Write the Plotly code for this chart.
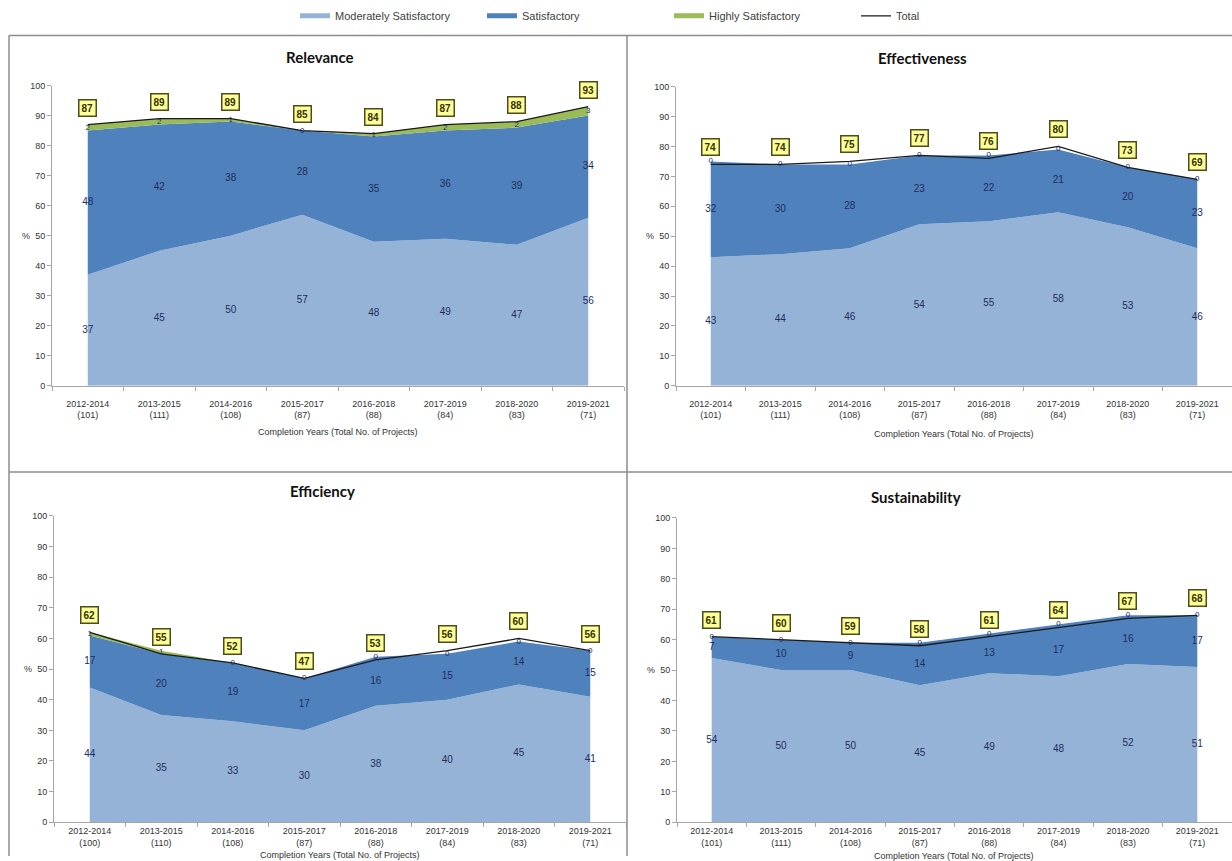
import plotly.graph_objects as go

years = ["2012-2014", "2013-2015", "2014-2016", "2015-2017",
         "2016-2018", "2017-2019", "2018-2020", "2019-2021"]

titles = ["Relevance", "Effectiveness", "Efficiency", "Sustainability"]

counts_rel = [101, 111, 108, 87, 88, 84, 83, 71]
counts_eff = [101, 111, 108, 87, 88, 84, 83, 71]
counts_efi = [100, 110, 108, 87, 88, 84, 83, 71]
counts_sus = [101, 111, 108, 87, 88, 84, 83, 71]

ms_rel = [37, 45, 50, 57, 48, 49, 47, 56]
s_rel = [48, 42, 38, 28, 35, 36, 39, 34]
hs_rel = [2, 2, 1, 0, 1, 2, 2, 3]
tot_rel = [87, 89, 89, 85, 84, 87, 88, 93]

ms_eff = [43, 44, 46, 54, 55, 58, 53, 46]
s_eff = [32, 30, 28, 23, 22, 21, 20, 23]
hs_eff = [0, 0, 0, 0, 0, 0, 0, 0]
tot_eff = [74, 74, 75, 77, 76, 80, 73, 69]

ms_efi = [44, 35, 33, 30, 38, 40, 45, 41]
s_efi = [17, 20, 19, 17, 16, 15, 14, 15]
hs_efi = [1, 1, 0, 0, 0, 0, 0, 0]
tot_efi = [62, 55, 52, 47, 53, 56, 60, 56]

ms_sus = [54, 50, 50, 45, 49, 48, 52, 51]
s_sus = [7, 10, 9, 14, 13, 17, 16, 17]
hs_sus = [0, 0, 0, 0, 0, 0, 0, 0]
tot_sus = [61, 60, 59, 58, 61, 64, 67, 68]

panels = [
    (counts_rel, ms_rel, s_rel, hs_rel, tot_rel),
    (counts_eff, ms_eff, s_eff, hs_eff, tot_eff),
    (counts_efi, ms_efi, s_efi, hs_efi, tot_efi),
    (counts_sus, ms_sus, s_sus, hs_sus, tot_sus),
]

C_MS = "#95b3d7"
C_S = "#4f81bd"
C_HS = "#9bbb59"
C_TOT = "#1a1a1a"
LBL = "#1f2d5c"
NARROW = "Liberation Sans Narrow, Arial Narrow, Liberation Sans, Arial"

W, H = 1232, 861

def vy(t):
    # vertical placement correction for the capture
    return (t - 5.5) / 0.9875

def px_x(a, b):
    return [a / W, b / W]

def px_y(top, bottom):
    return [1 - vy(bottom) / H, 1 - vy(top) / H]

def py(t):
    return 1 - vy(t) / H

# domains (pixel placement of each plot area)
xdoms = [px_x(52, 624), px_x(676, 1232), px_x(54, 626), px_x(677, 1232)]
ydoms = [px_y(86, 386), px_y(87, 386), px_y(516, 822), px_y(518, 822)]
title_pos = [(320, 57), (922, 58), (322, 491), (916, 497)]
xtitle_y = [432, 434, 855, 856]
standoff = [9, 9, 0, 0]

fig = go.Figure()
annotations = []

for i, (counts, ms, s, hs, tot) in enumerate(panels):
    k = "" if i == 0 else str(i + 1)
    xa, ya = "x" + k, "y" + k
    cats = [f"{y}<br>({n})" for y, n in zip(years, counts)]
    lvl1 = ms
    lvl2 = [a + b for a, b in zip(ms, s)]
    lvl3 = [a + b + c for a, b, c in zip(ms, s, hs)]

    fig.add_trace(go.Scatter(x=cats, y=lvl1, mode="lines", line=dict(width=0, color=C_MS),
                             fill="tozeroy", fillcolor=C_MS, showlegend=False,
                             hoverinfo="skip", xaxis=xa, yaxis=ya))
    fig.add_trace(go.Scatter(x=cats, y=lvl2, mode="lines", line=dict(width=0, color=C_S),
                             fill="tonexty", fillcolor=C_S, showlegend=False,
                             hoverinfo="skip", xaxis=xa, yaxis=ya))
    fig.add_trace(go.Scatter(x=cats, y=lvl3, mode="lines", line=dict(width=0, color=C_HS),
                             fill="tonexty", fillcolor=C_HS, showlegend=False,
                             hoverinfo="skip", xaxis=xa, yaxis=ya))
    fig.add_trace(go.Scatter(x=cats, y=tot, mode="lines", line=dict(width=1.3, color=C_TOT),
                             showlegend=False, hoverinfo="skip", xaxis=xa, yaxis=ya))

    # value labels at the middle of each band
    fig.add_trace(go.Scatter(x=cats, y=[v / 2 for v in ms], mode="text",
                             text=[str(v) for v in ms], textfont=dict(size=10, color=LBL, family=NARROW),
                             showlegend=False, hoverinfo="skip", xaxis=xa, yaxis=ya))
    fig.add_trace(go.Scatter(x=cats, y=[a + b / 2 for a, b in zip(ms, s)], mode="text",
                             text=[str(v) for v in s], textfont=dict(size=10, color=LBL, family=NARROW),
                             showlegend=False, hoverinfo="skip", xaxis=xa, yaxis=ya))
    fig.add_trace(go.Scatter(x=cats, y=[a + c / 2 for a, c in zip(lvl2, hs)], mode="text",
                             text=[str(v) for v in hs], textfont=dict(size=8, color=LBL, family=NARROW),
                             showlegend=False, hoverinfo="skip", xaxis=xa, yaxis=ya))

    for c, t in zip(cats, tot):
        annotations.append(dict(x=c, y=t, xref=xa, yref=ya, text=f"<b>{t}</b>",
                                showarrow=False, yshift=17,
                                font=dict(size=10, color="#333300", family=NARROW),
                                bgcolor="#ffff99", bordercolor="#4d4d1a", borderwidth=1.5,
                                borderpad=2))

    tx, ty = title_pos[i]
    annotations.append(dict(x=tx / W, y=py(ty), xref="paper", yref="paper",
                            text=f"<b>{titles[i]}</b>", showarrow=False,
                            font=dict(size=15, color="#111111", family="Lato, Open Sans"),
                            xanchor="center", yanchor="middle"))
    annotations.append(dict(x=sum(xdoms[i]) / 2, y=py(xtitle_y[i]), xref="paper", yref="paper",
                            text="Completion Years (Total No. of Projects)", showarrow=False,
                            font=dict(size=9, color="#333333", family=NARROW),
                            xanchor="center", yanchor="middle"))
    annotations.append(dict(x=xdoms[i][0] - 26 / W, y=sum(ydoms[i]) / 2, xref="paper", yref="paper",
                            text="%", showarrow=False,
                            font=dict(size=9, color="#333333", family=NARROW),
                            xanchor="center", yanchor="middle"))

    axis_common = dict(showgrid=False, zeroline=False, showline=True, linecolor="#a6a6a6",
                       linewidth=1, ticks="outside", tickcolor="#a6a6a6", ticklen=4)
    fig.update_layout(**{
        ("xaxis" + k): dict(domain=xdoms[i], anchor=ya, type="category",
                            categoryorder="array", categoryarray=cats,
                            range=[-0.5, 7.5], tickson="boundaries",
                            ticklabelstandoff=standoff[i],
                            tickfont=dict(size=9, color="#333333", family=NARROW),
                            **axis_common),
        ("yaxis" + k): dict(domain=ydoms[i], anchor=xa, range=[0, 100], dtick=10,
                            tickfont=dict(size=9, color="#333333", family=NARROW),
                            **axis_common),
    })

# legend-only entries
for name, col, w in [("Moderately Satisfactory", C_MS, 5), ("Satisfactory", C_S, 5),
                     ("Highly Satisfactory", C_HS, 5), ("Total", C_TOT, 1.3)]:
    fig.add_trace(go.Scatter(x=[None], y=[None], mode="lines", name=name,
                             line=dict(color=col, width=w), showlegend=True))

# panel borders
shapes = []
bc = "#8c8c8c"
for x0, y0, x1, y1 in [(9, 36, 1232, 36), (9, 36, 9, 861), (627, 36, 627, 861), (9, 472, 1232, 472)]:
    shapes.append(dict(type="line", xref="paper", yref="paper",
                       x0=x0 / W, x1=x1 / W, y0=py(y0), y1=min(1.0, max(0.0, py(y1))),
                       line=dict(color=bc, width=1.5)))

fig.update_layout(
    width=W, height=H,
    margin=dict(l=0, r=0, t=0, b=0),
    paper_bgcolor="white", plot_bgcolor="white",
    annotations=annotations, shapes=shapes,
    legend=dict(orientation="h", x=295 / W, y=1 - 11 / H, xanchor="left", yanchor="middle",
                traceorder="normal",
                font=dict(size=11, color="#404040", family=NARROW),
                itemwidth=30, entrywidth=142, entrywidthmode="pixels",
                bgcolor="rgba(0,0,0,0)"),
    hovermode=False,
)

post = ("document.documentElement.style.margin='0';"
        "document.body.style.margin='0';document.body.style.padding='0';"
        "document.body.style.overflow='hidden';document.documentElement.style.overflow='hidden';"
        "var d=document.getElementById('{plot_id}');"
        "d.style.position='fixed';d.style.left='0px';d.style.top='0px';")

fig.write_html("out.html", config={"responsive": False, "displayModeBar": False},
               post_script=post)
